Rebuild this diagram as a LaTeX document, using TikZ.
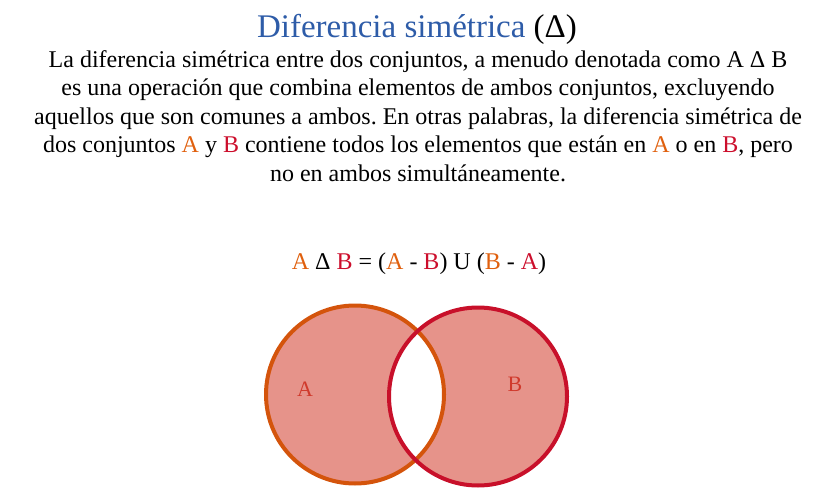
\documentclass[tikz,border=0pt]{standalone}
\usepackage{fontspec}
\setmainfont{Liberation Serif}
\frenchspacing
\definecolor{titleblue}{HTML}{2E5CA8}
\definecolor{aorange}{HTML}{E0600E}
\definecolor{bred}{HTML}{CC0E2C}
\definecolor{aline}{HTML}{D4540C}
\definecolor{bline}{HTML}{C8102A}
\definecolor{vfill}{HTML}{E6938A}
\definecolor{lblred}{HTML}{D03A2C}
\newcommand{\SA}{\textcolor{aorange}{A}}
\newcommand{\SB}{\textcolor{bred}{B}}
\begin{document}
\begin{tikzpicture}[x=1pt,y=-1pt,
  txt/.style={anchor=base,inner sep=0pt,font=\fontsize{24}{28}\selectfont},
  ttl/.style={anchor=base,inner sep=0pt,font=\fontsize{33}{38}\selectfont,text=titleblue},
  lbl/.style={anchor=base,inner sep=0pt,font=\fontsize{22}{26}\selectfont,text=lblred},
  ring/.style={line width=4pt}]
\useasboundingbox (0,0) rectangle (840,500);
\node[ttl] (title) at (417,38) {Diferencia simétrica \textcolor{black}{(Δ)}};
\node[txt] (l1) at (418,67.5) {La diferencia simétrica entre dos conjuntos, a menudo denotada como A Δ B};
\node[txt] (l2) at (418,96) {es una operación que combina elementos de ambos conjuntos, excluyendo};
\node[txt] (l3) at (418,124.5) {aquellos que son comunes a ambos. En otras palabras, la diferencia simétrica de};
\node[txt] (l4) at (418,153) {dos conjuntos \SA{} y \SB{} contiene todos los elementos que están en \SA{} o en \SB, pero};
\node[txt] (l5) at (418,181) {no en ambos simultáneamente.};
\node[txt] (formula) at (419,269) {\SA{} Δ \SB{} = (\SA{} - \SB) U (\textcolor{aorange}{B} - \textcolor{bred}{A})};
\fill[vfill,even odd rule] (355,394.5) circle[radius=89pt] (478,396.5) circle[radius=89pt];
\draw[ring,aline] (355,394.5) circle[radius=89pt];
\draw[ring,bline] (478,396.5) circle[radius=89pt];
\node[lbl] (la) at (305,396) {A};
\node[lbl] (lb) at (515,391) {B};
\end{tikzpicture}
\end{document}
